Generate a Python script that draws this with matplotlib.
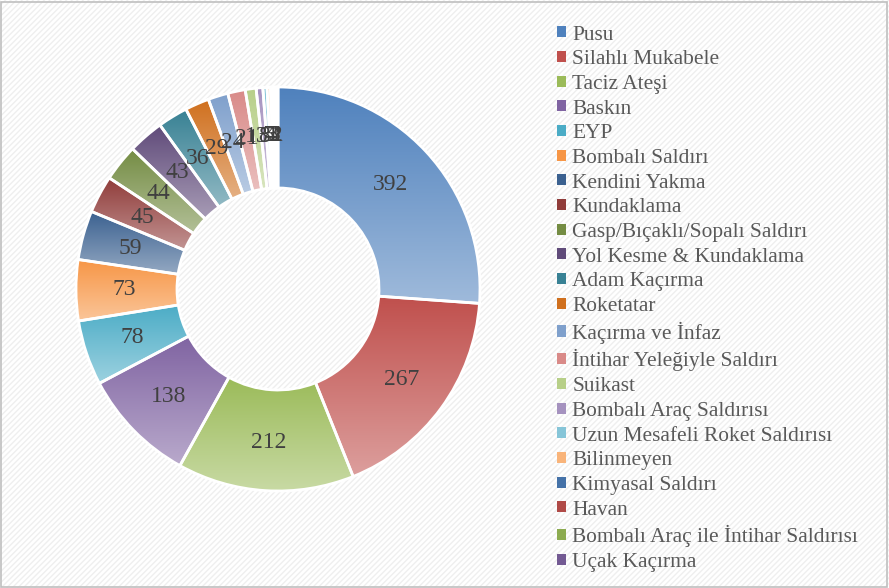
import numpy as np
import matplotlib
matplotlib.use("Agg")
import matplotlib.pyplot as plt
from matplotlib.patches import Patch, Rectangle
from matplotlib.colors import LinearSegmentedColormap, to_rgb

categories = ["Pusu", "Silahlı Mukabele", "Taciz Ateşi", "Baskın", "EYP", "Bombalı Saldırı",
              "Kendini Yakma", "Kundaklama", "Gasp/Bıçaklı/Sopalı Saldırı", "Yol Kesme & Kundaklama",
              "Adam Kaçırma", "Roketatar", "Kaçırma ve İnfaz", "İntihar Yeleğiyle Saldırı", "Suikast",
              "Bombalı Araç Saldırısı", "Uzun Mesafeli Roket Saldırısı", "Bilinmeyen", "Kimyasal Saldırı",
              "Havan", "Bombalı Araç ile İntihar Saldırısı", "Uçak Kaçırma"]
values = [392, 267, 212, 138, 78, 73, 59, 45, 44, 43, 36, 29, 24, 21, 13, 8, 5, 4, 3, 3, 2, 1]
colors = ["#4F81BD", "#C0504D", "#9BBB59", "#8064A2", "#4BACC6", "#F79646",
          "#3B6190", "#903C3A", "#748C43", "#604B7A", "#388194", "#D0701E",
          "#7FA0CC", "#D98A88", "#B7CF88", "#A592BF", "#86C5D8", "#F9B47A",
          "#4572A8", "#B04A47", "#8CAB50", "#735A93"]

plt.rcParams['font.family'] = ['Liberation Serif', 'DejaVu Serif']

fig = plt.figure(figsize=(8.89, 5.88), dpi=100)
fig.patch.set_facecolor("white")
bg = Rectangle((0, 0), 1, 1, transform=fig.transFigure, facecolor="white",
               edgecolor="#efefef", hatch="//////", linewidth=0, zorder=-10)
fig.patches.append(bg)
border = Rectangle((0.001, 0.002), 0.997, 0.995, transform=fig.transFigure, facecolor="none",
                   edgecolor="#bfbfbf", linewidth=1.2, zorder=10)
fig.patches.append(border)

cx, cy, r = 278 / 889, 1 - 289 / 588, 202
ax = fig.add_axes([cx - r / 889, cy - r / 588, 2 * r / 889, 2 * r / 588])
ax.set_facecolor("none")

wedges, _ = ax.pie(values, colors=colors, startangle=90, counterclock=False, radius=1.0,
                   wedgeprops=dict(width=0.5, edgecolor="white", linewidth=2))

def lighten(c, f):
    c = np.array(to_rgb(c))
    return tuple(c + (1 - c) * f)

for w, c in zip(wedges, colors):
    ext = w.get_path().get_extents()
    cmap = LinearSegmentedColormap.from_list("g", [lighten(c, 0.45), to_rgb(c)])
    grad = np.linspace(0, 1, 100).reshape(-1, 1)
    im = ax.imshow(grad, extent=[ext.x0, ext.x1, ext.y0, ext.y1], origin="lower",
                   cmap=cmap, aspect="auto", zorder=w.get_zorder() + 0.05, interpolation="bilinear")
    im.set_clip_path(w)
    w.set_facecolor("none")
    w.set_zorder(w.get_zorder() + 0.2)

ax.set_xlim(-1.0, 1.0)
ax.set_ylim(-1.0, 1.0)
ax.set_aspect("auto")
ax.axis("off")

for w, v in zip(wedges, values):
    ang = np.deg2rad((w.theta1 + w.theta2) / 2)
    ax.text(0.76 * np.cos(ang), 0.76 * np.sin(ang), str(v), ha="center", va="center",
            fontsize=17, color="#404040", zorder=5)

handles = [Patch(facecolor=c, edgecolor="none") for c in colors]
leg = fig.legend(handles, categories, loc="upper left", bbox_to_anchor=(557 / 889, 1 - 25.5 / 588),
                 frameon=False, fontsize=15.4, handlelength=0.42, handleheight=0.42, handletextpad=0.3,
                 labelspacing=0.265, borderaxespad=0, borderpad=0)
for t in leg.get_texts():
    t.set_color("#595959")

fig.savefig("out.png", dpi=100)
